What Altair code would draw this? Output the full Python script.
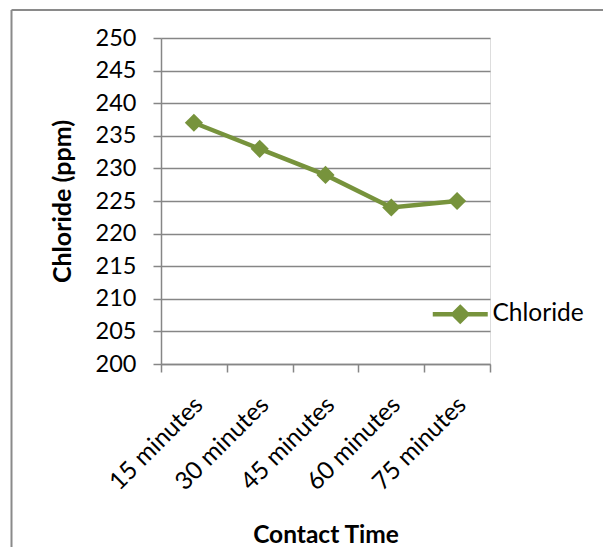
import altair as alt
import pandas as pd

categories = ["15 minutes", "30 minutes", "45 minutes", "60 minutes", "75 minutes"]
chloride = [237, 233, 229, 224, 225]
series_name = "Chloride"
y_ticks = list(range(200, 251, 5))

df = pd.DataFrame({"time": categories, "value": chloride, "series": series_name})

GREEN = "#77933C"
GRID = "#868686"
FONT = "Lato"

x_enc = alt.X(
    "time:N",
    sort=categories,
    scale=alt.Scale(type="band", paddingInner=0, paddingOuter=0),
    axis=alt.Axis(
        title="Contact Time",
        titleFont=FONT, titleFontSize=24.5, titleFontWeight="bold", titleColor="#000",
        titleY=178, titleBaseline="alphabetic",
        labelAngle=-45, labelAlign="right", labelBaseline="middle",
        labelFont=FONT, labelFontSize=24.5, labelColor="#000",
        labelPadding=29, labelOffset=5,
        tickBand="extent", tickSize=8, tickColor=GRID, tickWidth=1.5,
        domainColor=GRID, domainWidth=1.5, grid=False,
    ),
)
y_enc = alt.Y(
    "value:Q",
    scale=alt.Scale(domain=[200, 250], nice=False, zero=False),
    axis=alt.Axis(
        title="Chloride (ppm)",
        titleFont=FONT, titleFontSize=25, titleFontWeight="bold", titleColor="#000",
        titleX=-91, titleY=163, titleAngle=-90, titleBaseline="alphabetic", titleAlign="center",
        values=y_ticks, labelFont=FONT, labelFontSize=23.5, labelColor="#000",
        labelPadding=17, tickSize=8, tickColor=GRID, tickWidth=1.5,
        domainColor=GRID, domainWidth=1.5,
        grid=True, gridColor=GRID, gridWidth=1.5,
    ),
)
color_enc = alt.Color(
    "series:N",
    scale=alt.Scale(domain=[series_name], range=[GREEN]),
    legend=alt.Legend(
        title=None, orient="none", legendX=287, legendY=264, padding=0,
        symbolType="M-3,0L3,0M0,-0.75L0.75,0L0,0.75L-0.75,0Z", symbolSize=336,
        symbolStrokeWidth=4.5, symbolFillColor=GREEN, symbolStrokeColor=GREEN,
        symbolOpacity=1, labelFont=FONT, labelFontSize=24.5, labelColor="#000",
        labelOffset=20,
    ),
)

line = alt.Chart(df).mark_line(strokeWidth=4.5).encode(x=x_enc, y=y_enc, color=color_enc)
points = alt.Chart(df).mark_point(shape="diamond", filled=True, size=330, opacity=1).encode(
    x=x_enc, y=y_enc, color=color_enc
)

frame_df = pd.DataFrame({"k": [0]})
frame_v = alt.Chart(frame_df).mark_rule(color="#8a8a8a", strokeWidth=2).encode(
    x=alt.value(-149.5), y=alt.value(-28), y2=alt.value(700)
)
frame_h = alt.Chart(frame_df).mark_rule(color="#8a8a8a", strokeWidth=2).encode(
    x=alt.value(-149.5), x2=alt.value(700), y=alt.value(-28)
)

chart = alt.layer(frame_v, frame_h, line, points).properties(
    width=329, height=326,
    autosize=alt.AutoSizeParams(type="none"),
    padding={"left": 161, "top": 38, "right": 113, "bottom": 183},
).configure_view(stroke=None).configure(background="white")

chart.save("out.html", embed_options={"renderer": "svg", "actions": False})
